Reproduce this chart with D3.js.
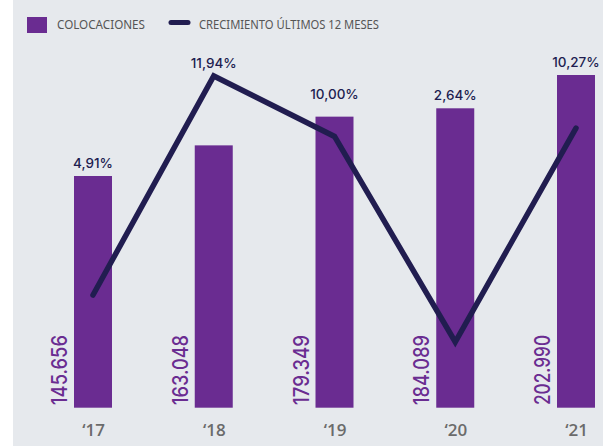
<!DOCTYPE html>
<html><head><meta charset="utf-8">
<script src="https://cdn.jsdelivr.net/npm/d3@7"></script>
<style>html,body{margin:0;padding:0;background:#fff;}svg{display:block;}</style>
</head><body>
<script>
const categories = ["‘17", "‘18", "‘19", "‘20", "‘21"];
const colocaciones = [145656, 163048, 179349, 184089, 202990];
const colocacionesLabels = ["145.656", "163.048", "179.349", "184.089", "202.990"];
const crecimiento = [4.91, 11.94, 10.00, 2.64, 10.27];
const crecimientoLabels = ["4,91%", "11,94%", "10,00%", "2,64%", "10,27%"];
const legendLabels = ["COLOCACIONES", "CRECIMIENTO ÚLTIMOS 12 MESES"];

const W = 603, H = 446;
const barColor = "#6a2c91", lineColor = "#211d50", bg = "#e6e9ed";
const svg = d3.select("body").append("svg").attr("width", W).attr("height", H);
svg.append("rect").attr("x", 13).attr("y", 0).attr("width", W - 13).attr("height", H).attr("fill", bg);

const x = d3.scalePoint().domain(categories).range([93, 576]);
const bw = 38;
const yBar = d3.scaleLinear().domain([14135, 202990]).range([407.7, 75]);
const yLine = d3.scaleLinear().domain([2.64, 4.91, 11.94]).range([342, 295, 76]);

// bars
svg.selectAll("rect.bar").data(colocaciones).join("rect").attr("class", "bar")
  .attr("x", (d, i) => x(categories[i]) - bw / 2)
  .attr("y", d => yBar(d))
  .attr("width", bw)
  .attr("height", d => yBar.range()[0] - yBar(d))
  .attr("fill", barColor);

// rotated value labels
svg.selectAll("text.val").data(colocacionesLabels).join("text").attr("class", "val")
  .attr("transform", (d, i) => `translate(${x(categories[i]) - bw / 2 - 7},405) rotate(-90)`)
  .attr("font-family", "Inter, sans-serif")
  .attr("font-weight", 500)
  .attr("font-size", 21)
  .attr("textLength", 70).attr("lengthAdjust", "spacingAndGlyphs")
  .attr("fill", barColor)
  .text(d => d);

// line
const line = d3.line().x((d, i) => x(categories[i])).y(d => yLine(d));
svg.append("path").datum(crecimiento)
  .attr("d", line).attr("fill", "none").attr("stroke", lineColor)
  .attr("stroke-width", 5.5).attr("stroke-linecap", "round").attr("stroke-linejoin", "miter");

// percent labels
svg.selectAll("text.pct").data(crecimientoLabels).join("text").attr("class", "pct")
  .attr("x", (d, i) => x(categories[i]))
  .attr("y", (d, i) => {
    const bt = yBar(colocaciones[i]), ly = yLine(crecimiento[i]);
    const gap = (ly > bt && ly - bt < 30) ? 18 : 8;
    return Math.min(bt, ly) - gap;
  })
  .attr("text-anchor", "middle")
  .attr("font-family", "Inter, sans-serif")
  .attr("font-weight", 500)
  .attr("font-size", 13.5)
  .attr("fill", lineColor)
  .text(d => d);

// x axis labels
const xAxis = d3.axisBottom(x).tickSize(0).tickPadding(0);
const gx = svg.append("g").attr("transform", "translate(0,424)").call(xAxis);
gx.select(".domain").remove();
gx.selectAll("text")
  .attr("font-family", "'Open Sans', sans-serif")
  .attr("font-weight", 600)
  .attr("font-size", 17)
  .attr("fill", "#6b6b6b").attr("dy", "0.71em");

// legend
svg.append("rect").attr("x", 27).attr("y", 17).attr("width", 20).attr("height", 16).attr("fill", barColor);
svg.append("text").attr("x", 57).attr("y", 28.5).text(legendLabels[0])
  .attr("font-family", "'Noto Sans', sans-serif").attr("font-size", 12.5)
  .attr("textLength", 88).attr("lengthAdjust", "spacingAndGlyphs").attr("fill", "#555");
svg.append("line").attr("x1", 171).attr("x2", 188).attr("y1", 22.5).attr("y2", 22.5)
  .attr("stroke", lineColor).attr("stroke-width", 5).attr("stroke-linecap", "round");
svg.append("text").attr("x", 199).attr("y", 28.5).text(legendLabels[1])
  .attr("font-family", "'Noto Sans', sans-serif").attr("font-size", 12.5)
  .attr("textLength", 180).attr("lengthAdjust", "spacingAndGlyphs").attr("fill", "#555");
</script>
</body></html>
